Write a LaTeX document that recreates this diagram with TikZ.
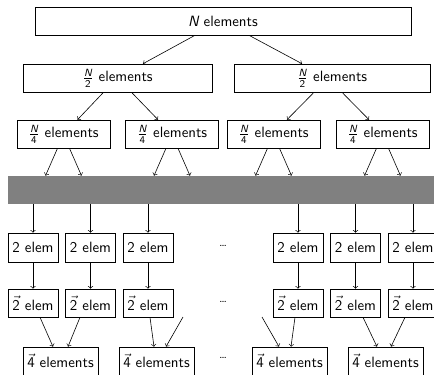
\documentclass[tikz,border=0pt]{standalone}
\usepackage{amsmath}
\usetikzlibrary{calc}
\newcommand{\nsym}{\text{\itshape N}}
\tikzset{
    elbox/.style={draw, inner sep=0pt, minimum height=28*0.671pt},
}
\begin{document}
\sffamily
\begin{tikzpicture}[x=0.671pt, y=-0.671pt, font=\sffamily]
            \useasboundingbox (0, 0) rectangle (434, 374);
            \clip (0, 0) rectangle (434, 374);
            \node[elbox, minimum width=376*0.671pt] (all) at (223, 21) {$\nsym$ elements};
            \node[elbox, minimum width=189*0.671pt] (halfa) at (117.5, 78) {$\frac{\nsym}{\text{2}}$ elements};
            \node[elbox, minimum width=196*0.671pt] (halfb) at (332, 78) {$\frac{\nsym}{\text{2}}$ elements};
            \foreach \n/\x in {a/63.5, b/172, c/273.5, d/382.5}
                \node[elbox, minimum width=93*0.671pt] (quart\n) at (\x, 134) {$\frac{\nsym}{\text{4}}$ elements};
            \node[fill=gray, inner sep=0pt, minimum width=432*0.671pt, minimum height=28*0.671pt] (bar) at (224, 190) {};
            \draw[->] ($(all.south)+(-28, 0)$) -- ($(halfa.north)+(25.5, 0)$);
            \draw[->] ($(all.south)+(26, 0)$) -- ($(halfb.north)+(-30, 0)$);
            \draw[->] ($(halfa.south)+(-14, 0)$) -- ($(quarta.north)+(14, 0)$);
            \draw[->] ($(halfa.south)+(14, 0)$) -- ($(quartb.north)+(-14, 0)$);
            \draw[->] ($(halfb.south)+(-18, 0)$) -- ($(quartc.north)+(13.5, 0)$);
            \draw[->] ($(halfb.south)+(10, 0)$) -- ($(quartd.north)+(-13.5, 0)$);
            \foreach \n in {a, b, c, d} {
                \draw[->] ($(quart\n.south)+(-6, 0)$) -- ($(quart\n.south |- bar.north)+(-18, 0)$);
                \draw[->] ($(quart\n.south)+(6, 0)$) -- ($(quart\n.south |- bar.north)+(18, 0)$);
            }
            \foreach \n/\x in {a/33, b/90.5, c/148, d/298, e/355.5, f/413} {
                \node[elbox, minimum width=50*0.671pt, minimum height=29*0.671pt] (two\n) at (\x, 247.5) {2 elem};
                \node[elbox, minimum width=50*0.671pt] (vtwo\n) at (\x, 303) {$\vec{\text{2}}$ elem};
                \draw[->] (bar.south -| two\n.north) -- (two\n.north);
                \draw[->] (two\n.south) -- (vtwo\n.north);
            }
            \foreach \n/\x in {a/60.5, b/156.5, c/289.5, d/385.5}
                \node[elbox, minimum width=75*0.671pt] (four\n) at (\x, 361) {$\vec{\text{4}}$ elements};
            \node[font=\sffamily\footnotesize] (dotsa) at (223, 246) {\dots};
            \node[font=\sffamily\footnotesize] (dotsb) at (223, 302) {\dots};
            \node[font=\sffamily\footnotesize] (dotsc) at (223, 358) {\dots};
            \coordinate (looseb) at (183, 317);
            \coordinate (loosec) at (262, 317);
            \draw[->] ($(vtwoa.south)+(7, 0)$) -- ($(foura.north)+(-7.5, 0)$);
            \draw[->] ($(vtwob.south)+(-10.5, 0)$) -- ($(foura.north)+(7.5, 0)$);
            \draw[->] ($(vtwoc.south)+(2, 0)$) -- ($(fourb.north)+(-2.5, 0)$);
            \draw[->] (looseb) -- ($(fourb.north)+(9.5, 0)$);
            \draw[->] (loosec) -- ($(fourc.north)+(-10.5, 0)$);
            \draw[->] ($(vtwod.south)+(-3, 0)$) -- ($(fourc.north)+(1.5, 0)$);
            \draw[->] ($(vtwoe.south)+(7.5, 0)$) -- ($(fourd.north)+(-8.5, 0)$);
            \draw[->] ($(vtwof.south)+(-8, 0)$) -- ($(fourd.north)+(5.5, 0)$);
        \end{tikzpicture}
\end{document}
